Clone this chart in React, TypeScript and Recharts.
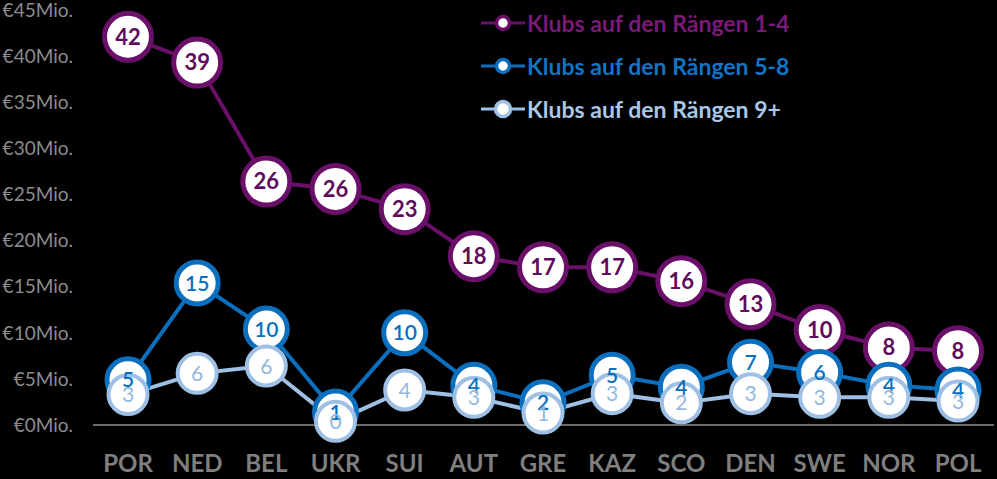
import { LineChart, Line, XAxis, YAxis, Legend, LabelList } from "recharts"

// Länder (x-Achse)
const countries = ["POR", "NED", "BEL", "UKR", "SUI", "AUT", "GRE", "KAZ", "SCO", "DEN", "SWE", "NOR", "POL"]

// Werte in Mio. €
const ranks1to4 = [42.1, 39.3, 26.4, 25.6, 23.4, 18.3, 17.1, 17.1, 15.6, 13.1, 10.3, 8.4, 8.0]
const ranks5to8 = [4.9, 15.4, 10.4, 1.4, 10.0, 4.3, 2.4, 5.4, 4.1, 6.8, 5.7, 4.3, 3.8]
const ranks9plus = [3.3, 5.6, 6.4, 0.4, 3.8, 3.0, 1.3, 3.4, 2.4, 3.4, 3.0, 3.0, 2.6]

const yTicks = [0, 5, 10, 15, 20, 25, 30, 35, 40, 45]

const FONT = "Lato, 'Open Sans', sans-serif"

const series = [
  { key: "r14", name: "Klubs auf den Rängen 1-4", color: "#6B1069", label: "#5E0C5C", legend: "#7A1A78", r: 23.5, sw: 5, weight: 700, fs: 22 },
  { key: "r58", name: "Klubs auf den Rängen 5-8", color: "#0B6FBE", label: "#0B6FBE", legend: "#1274C2", r: 21, sw: 5, weight: 600, fs: 21 },
  { key: "r9", name: "Klubs auf den Rängen 9+", color: "#9DC0E4", label: "#93B8E0", legend: "#A9C8E8", r: 19.5, sw: 4, weight: 400, fs: 21 },
]

const data = countries.map((c, i) => ({
  country: c,
  r14: ranks1to4[i],
  r58: ranks5to8[i],
  r9: ranks9plus[i],
}))

const makeLabel = (color: string, weight: number, fs: number) => (props: any) => {
  const x = props.x ?? props.viewBox?.x
  const y = props.y ?? props.viewBox?.y
  return (
    <text x={x} y={y} dy="0.36em" textAnchor="middle" fill={color} fontSize={fs} fontWeight={weight} fontFamily={FONT}>
      {Math.round(Number(props.value))}
    </text>
  )
}

function LegendBox() {
  return (
    <div style={{ fontFamily: FONT }}>
      {series.map((s) => (
        <div key={s.key} style={{ height: 43, display: "flex", alignItems: "center" }}>
          <svg width={44} height={22} style={{ marginRight: 2 }}>
            <line x1={0} y1={11} x2={44} y2={11} stroke={s.color} strokeWidth={3} />
            <circle cx={22} cy={11} r={s.key === "r9" ? 7.5 : 6.5} fill="#fff" stroke={s.color} strokeWidth={3.5} />
          </svg>
          <span style={{ color: s.legend, fontSize: 23, fontWeight: 700, whiteSpace: "nowrap" }}>{s.name}</span>
        </div>
      ))}
    </div>
  )
}

export default function App() {
  return (
    <div style={{ position: "fixed", top: 0, left: 0, width: 997, height: 479, background: "#000" }}>
      <LineChart width={997} height={479} data={data} margin={{ top: 10, right: 3, left: 0, bottom: 0 }}>
        <XAxis
          dataKey="country"
          interval={0}
          height={54}
          padding={{ left: 35, right: 36 }}
          axisLine={{ stroke: "#d9d9d9", strokeWidth: 1 }}
          tickLine={false}
          tickMargin={24}
          tick={{ fill: "#7f7f7f", fontSize: 24, fontWeight: 700, fontFamily: FONT }}
        />
        <YAxis
          width={93}
          domain={[0, 45]}
          ticks={yTicks}
          interval={0}
          axisLine={false}
          tickLine={false}
          tickSize={0}
          tickMargin={20}
          tickFormatter={(v: number) => `€${v}Mio.`}
          tick={{ fill: "#8c8c8c", fontSize: 19, fontFamily: FONT }}
        />
        <Legend
          layout="horizontal"
          verticalAlign="middle"
          align="center"
          wrapperStyle={{ top: 1, left: 481, width: "auto" }}
          content={() => <LegendBox />}
        />
        {series.map((s) => (
          <Line
            key={s.key}
            dataKey={s.key}
            name={s.name}
            stroke={s.color}
            strokeWidth={4}
            dot={{ r: s.r, fill: "#fff", stroke: s.color, strokeWidth: s.sw }}
            activeDot={false}
            isAnimationActive={false}
          />
        ))}
        {/* Beschriftungen zuletzt, damit sie über allen Kreisen liegen */}
        {series.map((s) => (
          <Line
            key={s.key + "-lbl"}
            dataKey={s.key}
            stroke="none"
            dot={false}
            activeDot={false}
            legendType="none"
            isAnimationActive={false}
          >
            <LabelList dataKey={s.key} content={makeLabel(s.label, s.weight, s.fs)} />
          </Line>
        ))}
      </LineChart>
    </div>
  )
}
